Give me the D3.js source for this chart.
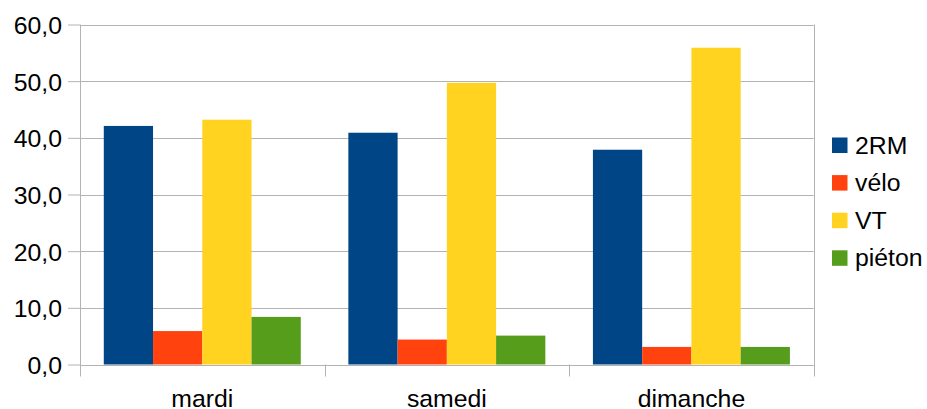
<!DOCTYPE html>
<html>
<head>
<meta charset="utf-8">
<script src="https://cdn.jsdelivr.net/npm/d3@7"></script>
<style>
  html, body { margin: 0; padding: 0; background: #fff; }
  svg { display: block; }
  text { font-family: "Liberation Sans", Arial, sans-serif; fill: #000; }
</style>
</head>
<body>
<svg id="chart" width="927" height="409"></svg>
<script>
// Jours observés et modes de déplacement
const categories = ["mardi", "samedi", "dimanche"];
const series = ["2RM", "vélo", "VT", "piéton"];
const values2RM = [42.1, 40.9, 37.9];
const valuesVelo = [5.9, 4.4, 3.1];
const valuesVT = [43.2, 49.7, 55.9];
const valuesPieton = [8.4, 5.1, 3.1];
const yTicks = [0, 10, 20, 30, 40, 50, 60];
const colors = ["#004586", "#ff420e", "#ffd320", "#579d1c"];

const seriesValues = [values2RM, valuesVelo, valuesVT, valuesPieton];
const rows = [];
categories.forEach((c, i) => {
  series.forEach((s, j) => rows.push({ cat: c, serie: s, value: seriesValues[j][i] }));
});

const svg = d3.select("#chart");
const plotLeft = 80, plotRight = 813.7, plotTop = 24.5, plotBottom = 364.5;
const grid = "#b3b3b3";
const fontSize = 24.8;

const fr = d3.formatLocale({ decimal: ",", thousands: " ", grouping: [3], currency: ["", " €"] });
const fmt = fr.format(".1f");

const y = d3.scaleLinear().domain([0, 60]).range([plotBottom, plotTop]);
const x = d3.scaleBand().domain(categories).range([plotLeft, plotRight]).paddingInner(0).paddingOuter(0);
const x1 = d3.scaleBand().domain(series).range([0, x.bandwidth()]).paddingInner(0).paddingOuter(0.483);
const color = d3.scaleOrdinal().domain(series).range(colors);

// Lignes de quadrillage horizontales
svg.append("g").selectAll("line").data(yTicks).join("line")
  .attr("x1", plotLeft).attr("x2", plotRight)
  .attr("y1", d => Math.round(y(d)) + 0.5).attr("y2", d => Math.round(y(d)) + 0.5)
  .attr("stroke", grid).attr("stroke-width", 1);

// Barres
svg.append("g").selectAll("rect").data(rows).join("rect")
  .attr("x", d => x(d.cat) + x1(d.serie))
  .attr("width", x1.bandwidth())
  .attr("y", d => y(d.value))
  .attr("height", d => y(0) - y(d.value))
  .attr("fill", d => color(d.serie));

// Axe vertical
const yAxis = svg.append("g")
  .attr("transform", `translate(${plotLeft},0)`)
  .call(d3.axisLeft(y).tickValues(yTicks).tickFormat(fmt).tickSize(12).tickPadding(6));
yAxis.select(".domain").remove();
yAxis.selectAll(".tick line").attr("stroke", grid);
yAxis.selectAll(".tick text").attr("font-size", fontSize).attr("fill", "#000")
  .attr("font-family", "Liberation Sans, Arial, sans-serif").attr("dy", "0.36em");

// Bords verticaux du graphique, prolongés sous l'axe
[plotLeft, plotRight].forEach(px => {
  svg.append("line")
    .attr("x1", Math.round(px) + 0.5).attr("x2", Math.round(px) + 0.5)
    .attr("y1", plotTop).attr("y2", plotBottom + 12)
    .attr("stroke", grid);
});

// Graduations entre catégories
const bounds = categories.slice(1).map(c => x(c));
svg.append("g").selectAll("line").data(bounds).join("line")
  .attr("x1", d => Math.round(d) + 0.5).attr("x2", d => Math.round(d) + 0.5)
  .attr("y1", plotBottom).attr("y2", plotBottom + 12)
  .attr("stroke", grid);

// Étiquettes des catégories
const xAxis = svg.append("g")
  .attr("transform", `translate(0,${plotBottom})`)
  .call(d3.axisBottom(x).tickSize(0).tickPadding(0));
xAxis.select(".domain").remove();
xAxis.selectAll(".tick text").attr("font-size", fontSize).attr("fill", "#000")
  .attr("font-family", "Liberation Sans, Arial, sans-serif")
  .attr("dy", null).attr("y", 42);

// Légende
const legend = svg.append("g").attr("transform", "translate(832,137.5)");
const item = legend.selectAll("g").data(series).join("g")
  .attr("transform", (d, i) => `translate(0,${i * 37.6})`);
item.append("rect").attr("width", 15.5).attr("height", 15.5).attr("fill", d => color(d));
item.append("text").attr("x", 23).attr("y", 16).attr("font-size", fontSize).text(d => d);
</script>
</body>
</html>
